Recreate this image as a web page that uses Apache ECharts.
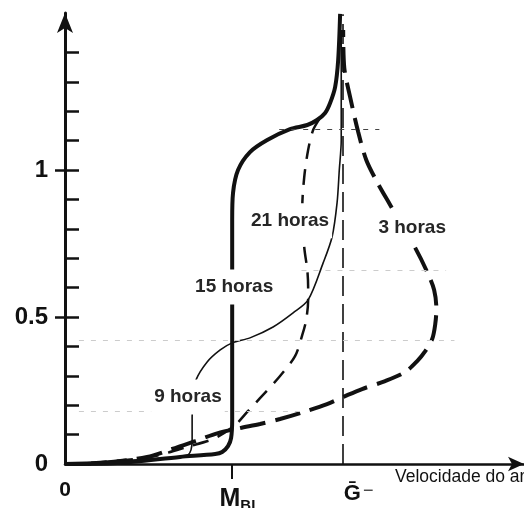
<!DOCTYPE html>
<html><head><meta charset="utf-8">
<script src="https://cdn.jsdelivr.net/npm/echarts@6/dist/echarts.min.js"></script>
<style>html,body{margin:0;padding:0;background:#fff}#c{width:524px;height:508px}</style>
</head><body><div id="c"></div>
<script>
// Axis values
const yTickValues = [0.1,0.2,0.3,0.4,0.5,0.6,0.7,0.8,0.9,1.0,1.1,1.2,1.3,1.4];
const yLabelValues = [0, 0.5, 1];
const yLabelTexts = ['0', '0.5', '1'];
const xLabelValues = [0, 0.6, 1.0];
const xTickValues = [0.6];
const G_VALUE = 1.0;
const xAxisTitle = 'Velocidade do ar';

// Curves: [velocity (G = 1), height]
const curve15h = [[0,0],[0.187,0.003],[0.414,0.024],[0.540,0.034],[0.565,0.041],[0.586,0.061],[0.597,0.088],[0.601,0.150],[0.601,0.558],[0.601,0.830],[0.604,0.922],[0.622,1.000],[0.665,1.061],[0.727,1.102],[0.809,1.139],[0.871,1.153],[0.906,1.170],[0.935,1.194],[0.953,1.228],[0.971,1.282],[0.982,1.374],[0.989,1.531]];
const curve9h = [[0,0],[0.306,0.017],[0.414,0.024],[0.442,0.031],[0.453,0.048],[0.457,0.082],[0.457,0.160],[0.464,0.235],[0.471,0.286],[0.511,0.347],[0.558,0.388],[0.601,0.412],[0.665,0.429],[0.748,0.466],[0.820,0.514],[0.874,0.558],[0.928,0.684],[0.960,0.772],[0.978,0.888],[0.986,1.000],[0.993,1.102],[0.993,1.316],[0.993,1.476]];
const curve21h = [[0,0],[0.126,0.007],[0.306,0.024],[0.450,0.061],[0.540,0.088],[0.612,0.133],[0.655,0.177],[0.701,0.224],[0.770,0.296],[0.827,0.367],[0.853,0.439],[0.867,0.490],[0.874,0.558],[0.874,0.602],[0.871,0.660],[0.860,0.738],[0.853,0.874],[0.860,0.976],[0.874,1.068],[0.892,1.136],[0.917,1.177]];
const curve3h = [[0,0],[0.126,0.003],[0.295,0.024],[0.385,0.051],[0.468,0.078],[0.550,0.105],[0.629,0.122],[0.701,0.136],[0.773,0.153],[0.845,0.173],[0.942,0.204],[1.007,0.231],[1.068,0.255],[1.151,0.282],[1.223,0.313],[1.266,0.350],[1.295,0.384],[1.320,0.425],[1.331,0.476],[1.335,0.527],[1.327,0.592],[1.302,0.653],[1.259,0.735],[1.216,0.803],[1.169,0.881],[1.122,0.959],[1.083,1.034],[1.054,1.129],[1.025,1.248],[1.004,1.347],[1.000,1.476]];

// Curve labels
const curveNames = ['9 horas', '15 horas', '21 horas', '3 horas'];
const curveLabelPos = [[0.442,0.228],[0.608,0.602],[0.809,0.827],[1.248,0.803]];

// Faint horizontal guide levels
const guideLevels = [1.14, 0.66, 0.42, 0.18];
const guideFrom = [0.77, 0.85, 0.05, 0.05];
const guideTo = [1.13, 1.37, 1.40, 0.85];

const chart = echarts.init(document.getElementById('c'), null, {renderer: 'canvas'});
const FONT = 'Liberation Sans, Arial, Helvetica, sans-serif';
const ink = '#111';

const guideColors = ['#444', '#cccccc', '#cccccc', '#cccccc'];
const guideData = guideLevels.map((y, i) => [
  {coord: [guideFrom[i], y], lineStyle: {color: guideColors[i], width: 1, type: [5, 7]}},
  {coord: [guideTo[i], y]}
]);

const lineBase = {type: 'line', showSymbol: false, symbol: 'none', clip: false, smooth: 0.3, silent: true, z: 3};

chart.setOption({
  animation: false,
  backgroundColor: '#fff',
  grid: {left: 65, right: 0, top: 13, bottom: 44, containLabel: false, outerBoundsMode: 'none'},
  xAxis: {
    type: 'value', min: 0, max: 1.65,
    axisLine: {show: true, onZero: false, symbol: ['none', 'arrow'], symbolSize: [11, 16], lineStyle: {color: ink, width: 2.5}},
    axisTick: {show: true, customValues: xTickValues, length: 15, lineStyle: {color: ink, width: 2}},
    splitLine: {show: false},
    axisLabel: {
      show: true, customValues: xLabelValues, margin: 16, color: ink,
      formatter: v => v === 0 ? '{z|0}' : (Math.abs(v - 0.6) < 1e-6 ? '{m|M}{s|BL}' : '{g|Ḡ}{sp|−}'),
      rich: {
        z: {fontFamily: FONT, fontWeight: 'bold', fontSize: 21, color: ink, verticalAlign: 'top', lineHeight: 22},
        m: {fontFamily: FONT, fontWeight: 'bold', fontSize: 25, color: ink, padding: [7,0,0,16], verticalAlign: 'top', lineHeight: 26},
        s: {fontFamily: FONT, fontWeight: 'bold', fontSize: 15, color: ink, verticalAlign: 'top', lineHeight: 15, padding: [18,0,0,0]},
        g: {fontFamily: 'Liberation Sans, DejaVu Sans, sans-serif', fontWeight: 'bold', fontSize: 22, color: ink, padding: [3,0,0,31], verticalAlign: 'top', lineHeight: 26},
        sp: {fontFamily: FONT, fontSize: 18, color: '#333', verticalAlign: 'top', lineHeight: 14, padding: [2,0,0,2]}
      }
    }
  },
  yAxis: [{
    type: 'value', min: 0, max: 1.534,
    axisLine: {show: true, symbol: ['none', 'arrow'], symbolSize: [12, 20], lineStyle: {color: ink, width: 3}},
    axisTick: {show: true, inside: true, customValues: yTickValues, length: 14, lineStyle: {color: ink, width: 2.5}},
    splitLine: {show: false},
    axisLabel: {
      show: true, customValues: yLabelValues, margin: 17, color: ink,
      fontFamily: FONT, fontWeight: 'bold', fontSize: 24,
      formatter: v => yLabelTexts[yLabelValues.findIndex(t => Math.abs(t - v) < 1e-6)]
    }
  }, {
    type: 'value', min: 0, max: 1.534, position: 'left', offset: 0,
    axisLine: {show: false},
    axisTick: {show: true, inside: false, customValues: [0.5, 1], length: 10, lineStyle: {color: ink, width: 2.5}},
    axisLabel: {show: false},
    splitLine: {show: false}
  }],
  graphic: [{
    type: 'text', left: 395, top: 468, silent: true,
    style: {text: xAxisTitle, font: '17.5px ' + FONT, fill: '#111'}
  }],
  series: [
    Object.assign({}, lineBase, {
      name: '3h', data: curve3h,
      lineStyle: {color: ink, width: 4, type: [26, 10]}
    }),
    Object.assign({}, lineBase, {
      name: '21h', data: curve21h,
      lineStyle: {color: ink, width: 2.5, type: [16, 10]}
    }),
    Object.assign({}, lineBase, {
      name: '9h', data: curve9h,
      lineStyle: {color: ink, width: 1.6, type: 'solid'},
      markLine: {
        silent: true, symbol: ['none', 'none'], label: {show: false},
        lineStyle: {color: ink, width: 1.6, type: [20, 8]},
        data: [[{coord: [G_VALUE, 0]}, {coord: [G_VALUE, 1.53]}]].concat(guideData)
      }
    }),
    Object.assign({}, lineBase, {
      name: '15h', data: curve15h, z: 4,
      lineStyle: {color: ink, width: 4, type: 'solid'}
    }),
    {
      type: 'custom', name: 'labels', z: 20, silent: true,
      data: curveNames.map((n, i) => ({name: n, value: curveLabelPos[i]})),
      renderItem: function (params, api) {
        const p = api.coord([api.value(0), api.value(1)]);
        return {
          type: 'text', x: p[0], y: p[1], z2: 100,
          style: {
            text: curveNames[params.dataIndex], x: 0, y: 0,
            align: 'center', verticalAlign: 'middle',
            font: 'bold 19px ' + FONT, fill: '#262626',
            backgroundColor: '#fff', padding: [8, 3]
          }
        };
      }
    }
  ]
});
</script>
</body></html>
